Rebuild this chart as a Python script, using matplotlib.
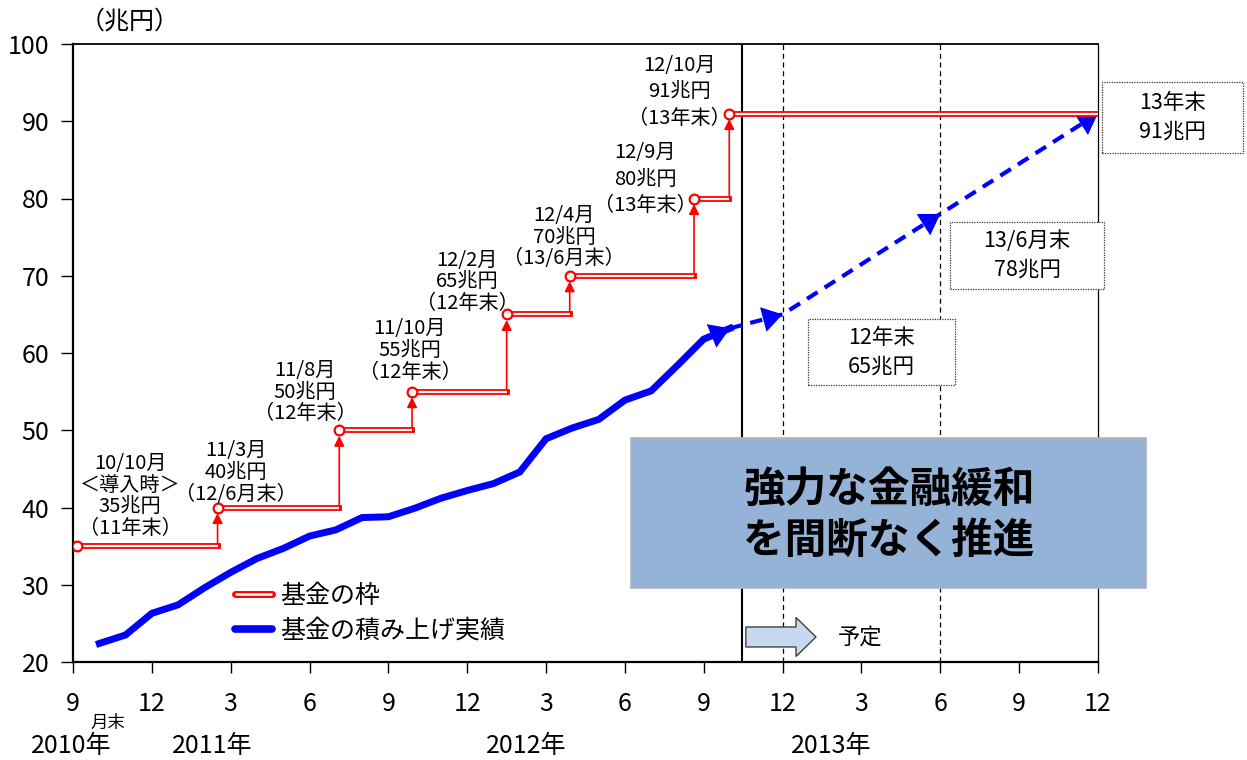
import matplotlib
matplotlib.use('Agg')
import matplotlib.pyplot as plt
from matplotlib.lines import Line2D
from matplotlib.legend_handler import HandlerTuple
from matplotlib.patches import Rectangle, FancyArrow

plt.rcParams['font.family'] = ['Noto Sans CJK JP', 'DejaVu Sans']

# ---------------- data (months counted from end of Sep 2010) ----------------
tick_months = [0, 3, 6, 9, 12, 15, 18, 21, 24, 27, 30, 33, 36, 39]
tick_labels = ['9', '12', '3', '6', '9', '12', '3', '6', '9', '12', '3', '6', '9', '12']
year_labels = ['2010年', '2011年', '2012年', '2013年']
year_months = [-0.07, 5.3, 17.24, 28.85]

# fund frame (基金の枠): decision date and size
frame_start = [0.17, 5.5, 10.13, 12.9, 16.5, 18.9, 23.63, 24.97]
frame_level = [35, 40, 50, 55, 65, 70, 80, 91]
frame_end = 39
frame_notes = ['10/10月\n＜導入時＞\n35兆円\n（11年末）',
               '11/3月\n40兆円\n（12/6月末）',
               '11/8月\n50兆円\n（12年末）',
               '11/10月\n55兆円\n（12年末）',
               '12/2月\n65兆円\n（12年末）',
               '12/4月\n70兆円\n（13/6月末）',
               '12/9月\n80兆円\n（13年末）',
               '12/10月\n91兆円\n（13年末）']

# actual accumulation (基金の積み上げ実績)
actual_months = list(range(1, 26))
actual_values = [22.4, 23.5, 26.3, 27.4, 29.6, 31.6, 33.4, 34.7, 36.3, 37.1,
                 38.7, 38.8, 39.9, 41.2, 42.2, 43.1, 44.6, 48.9, 50.3, 51.4,
                 53.9, 55.1, 58.4, 61.8, 63.2]

# planned path (予定)
plan_months = [25, 27, 33, 39]
plan_values = [63.2, 65, 78, 91]
plan_labels = ['12年末\n65兆円', '13/6月末\n78兆円', '13年末\n91兆円']

now_month = 25.46
guide_months = [27, 33]

RED = '#FF0000'
BLUE = '#0000FF'

fig = plt.figure(figsize=(12.47, 7.6), dpi=100)
ax = fig.add_axes([73 / 1247, 1 - 662 / 760, 1025 / 1247, 618 / 760])
ax.set_xlim(0, 39)
ax.set_ylim(20, 100)

# vertical reference lines
ax.axvline(now_month, color='black', lw=1.5, zorder=2)
for gm in guide_months:
    ax.axvline(gm, color='black', lw=0.9, ls=(0, (4, 3)), zorder=2)

# ---- frame steps (hollow red line) ----
for i in range(len(frame_start)):
    x0 = frame_start[i]
    x1 = frame_start[i + 1] if i + 1 < len(frame_start) else frame_end
    y = frame_level[i]
    ax.plot([x0, x1], [y, y], color=RED, lw=4.2, solid_capstyle='projecting', zorder=4)
    ax.plot([x0, x1], [y, y], color='white', lw=1.6, solid_capstyle='butt', zorder=4.1)
    if i > 0:
        ax.annotate('', xy=(x0, y), xytext=(x0, frame_level[i - 1]),
                    arrowprops=dict(arrowstyle='-|>,head_length=0.6,head_width=0.3',
                                    mutation_scale=10, color=RED, lw=1.2,
                                    shrinkA=0, shrinkB=4), zorder=4)
ax.plot(frame_start, frame_level, 'o', ms=7, mfc='white', mec=RED, mew=1.6, zorder=5)

# ---- actual accumulation ----
ax.plot(actual_months, actual_values, color=BLUE, lw=5, solid_joinstyle='miter', zorder=3)
head = dict(arrowstyle='-|>,head_length=0.6,head_width=0.38', mutation_scale=24,
            fc=BLUE, ec=BLUE, lw=0, shrinkA=0, shrinkB=0)
ax.annotate('', xy=(actual_months[-1], actual_values[-1]),
            xytext=(actual_months[-2], actual_values[-2]), arrowprops=head, zorder=3)

# ---- planned path ----
ax.plot(plan_months, plan_values, color=BLUE, lw=3, ls=(0, (3, 2)), zorder=3)
for i in range(1, len(plan_months)):
    ax.annotate('', xy=(plan_months[i], plan_values[i]),
                xytext=(plan_months[i - 1], plan_values[i - 1]), arrowprops=head, zorder=3)

# ---- notes above frame steps ----
note_pos = [(2.17, 41.5), (6.2, 44.5), (8.83, 54.95), (12.82, 60.3),
            (15.0, 69.2), (18.68, 75.0), (21.77, 82.5), (23.07, 93.8)]
note_space = [1.05, 1.05, 1.05, 1.05, 1.05, 1.05, 1.35, 1.35]
for txt, (nx, ny), sp in zip(frame_notes, note_pos, note_space):
    ax.text(nx, ny, txt, ha='center', va='center', fontsize=14.5,
            linespacing=sp, zorder=6)

# ---- dotted label boxes for the plan ----
box_rects = [(27.97, 55.86, 5.59, 8.54), (33.37, 68.3, 5.86, 8.7), (39.15, 85.9, 5.37, 9.2)]
for lab, (bx, by, bw, bh) in zip(plan_labels, box_rects):
    ax.add_patch(Rectangle((bx, by), bw, bh, fc='white', ec='#333333', lw=0.9,
                           ls=(0, (1, 1)), clip_on=False, zorder=6))
    ax.text(bx + bw / 2, by + bh / 2, lab, ha='center', va='center', fontsize=15.5,
            linespacing=1.4, zorder=7, clip_on=False)

# ---- message box ----
ax.add_patch(Rectangle((21.23, 29.58), 19.6, 19.42, fc='#95B3D7', ec='#B4B4B4',
                       lw=1.2, clip_on=False, zorder=6))
ax.text(31.05, 39.0, '強力な金融緩和\nを間断なく推進', ha='center', va='center',
        fontsize=30, fontweight='bold', fontstyle='italic', linespacing=1.3, zorder=7)

# ---- 予定 arrow ----
ax.add_patch(FancyArrow(25.6, 23.24, 2.67, 0, width=2.59, head_width=5.05,
                        head_length=0.76, length_includes_head=True,
                        fc='#C6D9F1', ec='#404040', lw=1, zorder=6))
ax.text(29.95, 23.24, '予定', ha='center', va='center', fontsize=16, zorder=7)

# ---- legend ----
h_frame = (Line2D([], [], color=RED, lw=5, solid_capstyle='round'),
           Line2D([], [], color='white', lw=1.8, solid_capstyle='butt'))
h_actual = Line2D([], [], color=BLUE, lw=5.5, solid_capstyle='round')
ax.legend([h_frame, h_actual], ['基金の枠', '基金の積み上げ実績'],
          handler_map={tuple: HandlerTuple(ndivide=1, pad=0)},
          loc='center left', bbox_to_anchor=(0.158, 0.079), frameon=False,
          fontsize=18, handlelength=1.5, handletextpad=0.3, labelspacing=0.35,
          borderpad=0, borderaxespad=0)

# ---- axes styling ----
ax.set_xticks(tick_months)
ax.set_xticklabels(tick_labels)
ax.set_yticks(range(20, 101, 10))
ax.tick_params(axis='x', direction='out', length=8, width=1, pad=13, labelsize=18)
ax.tick_params(axis='y', direction='out', length=9, width=1, pad=8, labelsize=18)
ax.spines['left'].set_linewidth(1.6)
ax.spines['bottom'].set_linewidth(1.6)
ax.spines['top'].set_linewidth(1.3)
ax.spines['right'].set_linewidth(0.9)

for lab, xm in zip(year_labels, year_months):
    ax.annotate(lab, xy=(xm, -0.136), xycoords=('data', 'axes fraction'),
                ha='center', va='center', fontsize=18, annotation_clip=False)
ax.annotate('月末', xy=(1.33, -0.098), xycoords=('data', 'axes fraction'),
            ha='center', va='center', fontsize=12.5, annotation_clip=False)
ax.text(0.055, 1.036, '（兆円）', transform=ax.transAxes, ha='center', va='center',
        fontsize=18)

fig.savefig('out.png', dpi=100)
